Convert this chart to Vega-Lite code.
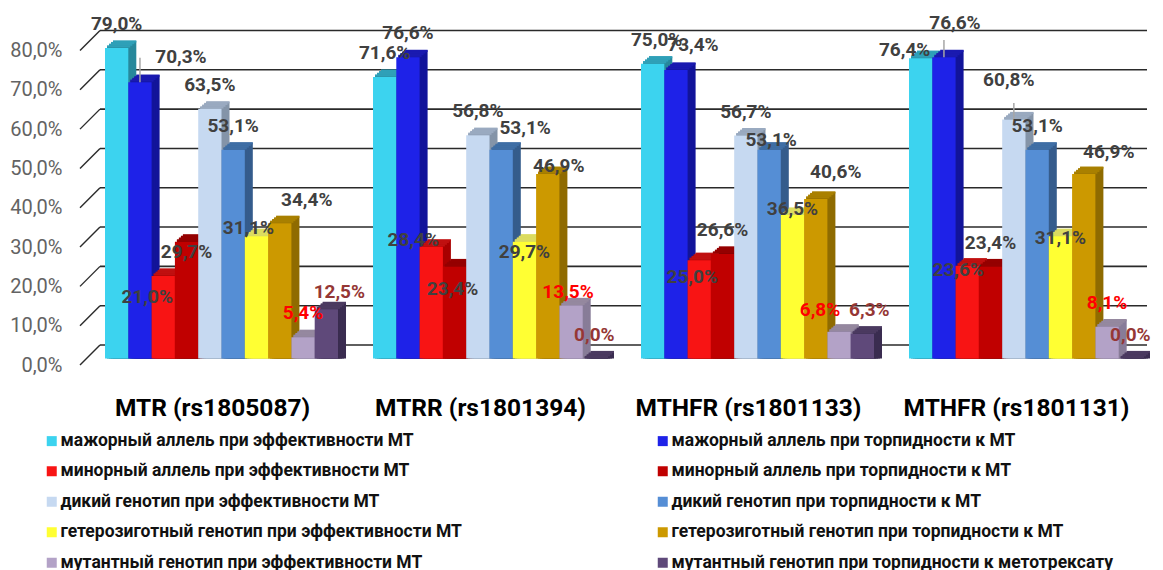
{"$schema":"https://vega.github.io/schema/vega-lite/v6.json","width":1047,"height":314.5,"autosize":{"type":"none"},"padding":{"left":100,"top":44,"right":16,"bottom":211.5},"background":"white","config":{"view":{"stroke":null},"font":"Roboto"},
"layer":[
{"data":{"values":[{"v":0},{"v":10},{"v":20},{"v":30},{"v":40},{"v":50},{"v":60},{"v":70},{"v":80}]},"layer":[
{"mark":{"type":"rule","color":"#2a2a2a","strokeWidth":1.6,"yOffset":-13.5},"encoding":{"y":{"field":"v","type":"quantitative","title":null,"scale":{"domain":[0,80],"nice":false},"axis":{"domain":false,"ticks":false,"grid":false,"values":[0,10,20,30,40,50,60,70,80],"labelOverlap":false,"labelExpr":"replace(format(datum.value,'.1f'),'.',',')+'%'","labelFontSize":20,"labelColor":"#636363","labelPadding":38,"labelOffset":6.5}}}},
{"mark":{"type":"rule","color":"#2a2a2a","strokeWidth":1.4,"yOffset":6.5,"y2Offset":-13.5},"encoding":{"x":{"value":-20},"x2":{"value":0},"y":{"field":"v","type":"quantitative","title":null,"axis":{"domain":false,"ticks":false,"grid":false,"values":[0,10,20,30,40,50,60,70,80],"labelOverlap":false,"labelExpr":"replace(format(datum.value,'.1f'),'.',',')+'%'","labelFontSize":20,"labelColor":"#636363","labelPadding":38,"labelOffset":6.5}},"y2":{"field":"v"}}}
]},
{"data":{"values":[
{"id":1,"group":"MTR (rs1805087)","series":"мажорный аллель при эффективности МТ","value":79.0,"label":"79,0%"},
{"id":2,"group":"MTR (rs1805087)","series":"мажорный аллель при торпидности к МТ","value":70.3,"label":"70,3%"},
{"id":3,"group":"MTR (rs1805087)","series":"минорный аллель при эффективности МТ","value":21.0,"label":"21,0%"},
{"id":4,"group":"MTR (rs1805087)","series":"минорный аллель при торпидности к МТ","value":29.7,"label":"29,7%"},
{"id":5,"group":"MTR (rs1805087)","series":"дикий генотип при эффективности МТ","value":63.5,"label":"63,5%"},
{"id":6,"group":"MTR (rs1805087)","series":"дикий генотип при торпидности к МТ","value":53.1,"label":"53,1%"},
{"id":7,"group":"MTR (rs1805087)","series":"гетерозиготный генотип при эффективности МТ","value":31.1,"label":"31,1%"},
{"id":8,"group":"MTR (rs1805087)","series":"гетерозиготный генотип при торпидности к МТ","value":34.4,"label":"34,4%"},
{"id":9,"group":"MTR (rs1805087)","series":"мутантный генотип при эффективности МТ","value":5.4,"label":"5,4%"},
{"id":10,"group":"MTR (rs1805087)","series":"мутантный генотип при торпидности к метотрексату","value":12.5,"label":"12,5%"},
{"id":11,"group":"MTRR (rs1801394)","series":"мажорный аллель при эффективности МТ","value":71.6,"label":"71,6%"},
{"id":12,"group":"MTRR (rs1801394)","series":"мажорный аллель при торпидности к МТ","value":76.6,"label":"76,6%"},
{"id":13,"group":"MTRR (rs1801394)","series":"минорный аллель при эффективности МТ","value":28.4,"label":"28,4%"},
{"id":14,"group":"MTRR (rs1801394)","series":"минорный аллель при торпидности к МТ","value":23.4,"label":"23,4%"},
{"id":15,"group":"MTRR (rs1801394)","series":"дикий генотип при эффективности МТ","value":56.8,"label":"56,8%"},
{"id":16,"group":"MTRR (rs1801394)","series":"дикий генотип при торпидности к МТ","value":53.1,"label":"53,1%"},
{"id":17,"group":"MTRR (rs1801394)","series":"гетерозиготный генотип при эффективности МТ","value":29.7,"label":"29,7%"},
{"id":18,"group":"MTRR (rs1801394)","series":"гетерозиготный генотип при торпидности к МТ","value":46.9,"label":"46,9%"},
{"id":19,"group":"MTRR (rs1801394)","series":"мутантный генотип при эффективности МТ","value":13.5,"label":"13,5%"},
{"id":20,"group":"MTRR (rs1801394)","series":"мутантный генотип при торпидности к метотрексату","value":0.0,"label":"0,0%"},
{"id":21,"group":"MTHFR (rs1801133)","series":"мажорный аллель при эффективности МТ","value":75.0,"label":"75,0%"},
{"id":22,"group":"MTHFR (rs1801133)","series":"мажорный аллель при торпидности к МТ","value":73.4,"label":"73,4%"},
{"id":23,"group":"MTHFR (rs1801133)","series":"минорный аллель при эффективности МТ","value":25.0,"label":"25,0%"},
{"id":24,"group":"MTHFR (rs1801133)","series":"минорный аллель при торпидности к МТ","value":26.6,"label":"26,6%"},
{"id":25,"group":"MTHFR (rs1801133)","series":"дикий генотип при эффективности МТ","value":56.7,"label":"56,7%"},
{"id":26,"group":"MTHFR (rs1801133)","series":"дикий генотип при торпидности к МТ","value":53.1,"label":"53,1%"},
{"id":27,"group":"MTHFR (rs1801133)","series":"гетерозиготный генотип при эффективности МТ","value":36.5,"label":"36,5%"},
{"id":28,"group":"MTHFR (rs1801133)","series":"гетерозиготный генотип при торпидности к МТ","value":40.6,"label":"40,6%"},
{"id":29,"group":"MTHFR (rs1801133)","series":"мутантный генотип при эффективности МТ","value":6.8,"label":"6,8%"},
{"id":30,"group":"MTHFR (rs1801133)","series":"мутантный генотип при торпидности к метотрексату","value":6.3,"label":"6,3%"},
{"id":31,"group":"MTHFR (rs1801131)","series":"мажорный аллель при эффективности МТ","value":76.4,"label":"76,4%"},
{"id":32,"group":"MTHFR (rs1801131)","series":"мажорный аллель при торпидности к МТ","value":76.6,"label":"76,6%"},
{"id":33,"group":"MTHFR (rs1801131)","series":"минорный аллель при эффективности МТ","value":23.6,"label":"23,6%"},
{"id":34,"group":"MTHFR (rs1801131)","series":"минорный аллель при торпидности к МТ","value":23.4,"label":"23,4%"},
{"id":35,"group":"MTHFR (rs1801131)","series":"дикий генотип при эффективности МТ","value":60.8,"label":"60,8%"},
{"id":36,"group":"MTHFR (rs1801131)","series":"дикий генотип при торпидности к МТ","value":53.1,"label":"53,1%"},
{"id":37,"group":"MTHFR (rs1801131)","series":"гетерозиготный генотип при эффективности МТ","value":31.1,"label":"31,1%"},
{"id":38,"group":"MTHFR (rs1801131)","series":"гетерозиготный генотип при торпидности к МТ","value":46.9,"label":"46,9%"},
{"id":39,"group":"MTHFR (rs1801131)","series":"мутантный генотип при эффективности МТ","value":8.1,"label":"8,1%"},
{"id":40,"group":"MTHFR (rs1801131)","series":"мутантный генотип при торпидности к метотрексату","value":0.0,"label":"0,0%"}
]},
"encoding":{
"x":{"field":"group","type":"nominal","sort":null,"title":null,"scale":{"paddingInner":0.1306,"paddingOuter":0.0187},"axis":{"domain":false,"ticks":false,"labelAngle":0,"labelFontSize":24.5,"labelFontWeight":"bold","labelColor":"#000000","labelPadding":50,"labelOffset":-9,"labelLimit":400,"labelBaseline":"middle","encode":{"labels":{"update":{"dx":{"signal":"datum.value=='MTR (rs1805087)'?-9:datum.value=='MTHFR (rs1801133)'?2:datum.value=='MTHFR (rs1801131)'?-2:0"}}}}}},
"xOffset":{"field":"series","type":"nominal","sort":null,"scale":{"paddingInner":0,"paddingOuter":0,"domain":["мажорный аллель при эффективности МТ","мажорный аллель при торпидности к МТ","минорный аллель при эффективности МТ","минорный аллель при торпидности к МТ","дикий генотип при эффективности МТ","дикий генотип при торпидности к МТ","гетерозиготный генотип при эффективности МТ","гетерозиготный генотип при торпидности к МТ","мутантный генотип при эффективности МТ","мутантный генотип при торпидности к метотрексату"]}},
"y":{"field":"value","type":"quantitative","stack":null,"title":null,"axis":{"domain":false,"ticks":false,"grid":false,"values":[0,10,20,30,40,50,60,70,80],"labelOverlap":false,"labelExpr":"replace(format(datum.value,'.1f'),'.',',')+'%'","labelFontSize":20,"labelColor":"#636363","labelPadding":38,"labelOffset":6.5}}
},
"layer":[
{"encoding":{"color":{"field":"series","type":"nominal","legend":null,"scale":{"domain":["мажорный аллель при эффективности МТ","минорный аллель при эффективности МТ","дикий генотип при эффективности МТ","гетерозиготный генотип при эффективности МТ","мутантный генотип при эффективности МТ","мажорный аллель при торпидности к МТ","минорный аллель при торпидности к МТ","дикий генотип при торпидности к МТ","гетерозиготный генотип при торпидности к МТ","мутантный генотип при торпидности к метотрексату"],"range":["#27889c","#a80000","#8494a8","#d4d468","#887c98","#12149a","#7f0000","#355c8c","#8f6b00","#3a2c50"]}}},
"layer":[
{"mark":{"type":"bar","yOffset":-7,"y2Offset":-7},"encoding":{"xOffset":{"field":"series","type":"nominal","sort":null,"scale":{"paddingInner":0,"paddingOuter":0,"range":[8,241]}}}},
{"mark":{"type":"bar","yOffset":-5.25,"y2Offset":-5.25},"encoding":{"xOffset":{"field":"series","type":"nominal","sort":null,"scale":{"paddingInner":0,"paddingOuter":0,"range":[6,239]}}}},
{"mark":{"type":"bar","yOffset":-3.5,"y2Offset":-3.5},"encoding":{"xOffset":{"field":"series","type":"nominal","sort":null,"scale":{"paddingInner":0,"paddingOuter":0,"range":[4,237]}}}},
{"mark":{"type":"bar","yOffset":-1.75,"y2Offset":-1.75},"encoding":{"xOffset":{"field":"series","type":"nominal","sort":null,"scale":{"paddingInner":0,"paddingOuter":0,"range":[2,235]}}}}
],"resolve":{"scale":{"xOffset":"independent"}}},
{"encoding":{"color":{"field":"series","type":"nominal","legend":null,"scale":{"domain":["мажорный аллель при эффективности МТ","минорный аллель при эффективности МТ","дикий генотип при эффективности МТ","гетерозиготный генотип при эффективности МТ","мутантный генотип при эффективности МТ","мажорный аллель при торпидности к МТ","минорный аллель при торпидности к МТ","дикий генотип при торпидности к МТ","гетерозиготный генотип при торпидности к МТ","мутантный генотип при торпидности к метотрексату"],"range":["#2fa0b8","#c01010","#9aaac0","#dcdc60","#95889f","#1a1ab0","#950000","#3f6ea5","#a98000","#4b3a60"]}}},
"layer":[
{"mark":{"type":"tick","size":23.3,"thickness":2.2,"opacity":1,"yOffset":-6.5},"encoding":{"xOffset":{"field":"series","type":"nominal","sort":null,"scale":{"paddingInner":0,"paddingOuter":0,"range":[8,241]}}}},
{"mark":{"type":"tick","size":23.3,"thickness":2.2,"opacity":1,"yOffset":-4.9},"encoding":{"xOffset":{"field":"series","type":"nominal","sort":null,"scale":{"paddingInner":0,"paddingOuter":0,"range":[6,239]}}}},
{"mark":{"type":"tick","size":23.3,"thickness":2.2,"opacity":1,"yOffset":-3.2},"encoding":{"xOffset":{"field":"series","type":"nominal","sort":null,"scale":{"paddingInner":0,"paddingOuter":0,"range":[4,237]}}}},
{"mark":{"type":"tick","size":23.3,"thickness":2.2,"opacity":1,"yOffset":-1.5},"encoding":{"xOffset":{"field":"series","type":"nominal","sort":null,"scale":{"paddingInner":0,"paddingOuter":0,"range":[2,235]}}}}
],"resolve":{"scale":{"xOffset":"independent"}}},
{"mark":{"type":"bar"},"encoding":{"color":{"field":"series","type":"nominal","scale":{"domain":["мажорный аллель при эффективности МТ","минорный аллель при эффективности МТ","дикий генотип при эффективности МТ","гетерозиготный генотип при эффективности МТ","мутантный генотип при эффективности МТ","мажорный аллель при торпидности к МТ","минорный аллель при торпидности к МТ","дикий генотип при торпидности к МТ","гетерозиготный генотип при торпидности к МТ","мутантный генотип при торпидности к метотрексату"],"range":["#3cd3ef","#f81414","#c6d9f1","#ffff33","#b3a2c7","#1e22e8","#c00000","#558ed5","#cc9900","#5f497a"]},"legend":{"title":null,"orient":"none","legendX":-57,"legendY":388,"columns":2,"symbolType":"square","symbolSize":100,"symbolStrokeWidth":0,"labelFontSize":17.5,"labelFontWeight":"bold","labelColor":"#111111","labelLimit":600,"rowPadding":11.5,"columnPadding":192,"labelOffset":0,"symbolOffset":0,"padding":0}}}},
{"transform":[{"filter":"datum.id==2"}],"mark":{"type":"rule","color":"#a6a6a6","strokeWidth":1.5},"encoding":{"y2":{"datum":76.5}}},
{"transform":[{"filter":"datum.id==35"}],"mark":{"type":"rule","color":"#a6a6a6","strokeWidth":1.5},"encoding":{"y2":{"datum":65}}},
{"transform":[{"filter":"datum.id==32"}],"mark":{"type":"rule","color":"#a6a6a6","strokeWidth":1.5},"encoding":{"y2":{"datum":81}}},
{"encoding":{"text":{"field":"label"},"color":{"condition":[{"test":"datum.series=='мутантный генотип при эффективности МТ'","value":"#ff0000"},{"test":"datum.series=='мутантный генотип при торпидности к метотрексату'","value":"#953735"}],"value":"#404040"}},
"layer":[
{"transform":[{"filter":"indexof([2,3,4,7,8,10,13,14,16,17,18,19,21,22,23,26,27,28,29,30,31,32,33,35,37,38],datum.id)<0"}],"mark":{"type":"text","fontSize":19,"fontWeight":"bold","dy":-24}},
{"transform":[{"filter":"datum.id==2"}],"mark":{"type":"text","fontSize":19,"fontWeight":"bold","dx":41,"dy":-25}},
{"transform":[{"filter":"datum.id==3"}],"mark":{"type":"text","fontSize":19,"fontWeight":"bold","dx":-16,"dy":21}},
{"transform":[{"filter":"datum.id==4||datum.id==17"}],"mark":{"type":"text","fontSize":19,"fontWeight":"bold","dy":10}},
{"transform":[{"filter":"datum.id==7"}],"mark":{"type":"text","fontSize":19,"fontWeight":"bold","dx":-8,"dy":-8}},
{"transform":[{"filter":"datum.id==8"}],"mark":{"type":"text","fontSize":19,"fontWeight":"bold","dx":27,"dy":-23}},
{"transform":[{"filter":"datum.id==10"}],"mark":{"type":"text","fontSize":19,"fontWeight":"bold","dx":13,"dy":-17}},
{"transform":[{"filter":"datum.id==13"}],"mark":{"type":"text","fontSize":19,"fontWeight":"bold","dx":-18,"dy":-7}},
{"transform":[{"filter":"datum.id==14"}],"mark":{"type":"text","fontSize":19,"fontWeight":"bold","dx":-2,"dy":22}},
{"transform":[{"filter":"datum.id==16"}],"mark":{"type":"text","fontSize":19,"fontWeight":"bold","dx":24,"dy":-22}},
{"transform":[{"filter":"datum.id==18"}],"mark":{"type":"text","fontSize":19,"fontWeight":"bold","dx":11,"dy":-8}},
{"transform":[{"filter":"datum.id==19"}],"mark":{"type":"text","fontSize":19,"fontWeight":"bold","dx":-3,"dy":-13}},
{"transform":[{"filter":"datum.id==21"}],"mark":{"type":"text","fontSize":19,"fontWeight":"bold","dx":4,"dy":-24}},
{"transform":[{"filter":"datum.id==22"}],"mark":{"type":"text","fontSize":19,"fontWeight":"bold","dx":17,"dy":-25}},
{"transform":[{"filter":"datum.id==23"}],"mark":{"type":"text","fontSize":19,"fontWeight":"bold","dx":-7,"dy":17}},
{"transform":[{"filter":"datum.id==26"}],"mark":{"type":"text","fontSize":19,"fontWeight":"bold","dx":2,"dy":-10}},
{"transform":[{"filter":"datum.id==27"}],"mark":{"type":"text","fontSize":19,"fontWeight":"bold","dy":-6}},
{"transform":[{"filter":"datum.id==28"}],"mark":{"type":"text","fontSize":19,"fontWeight":"bold","dx":20,"dy":-27}},
{"transform":[{"filter":"datum.id==29"}],"mark":{"type":"text","fontSize":19,"fontWeight":"bold","dx":-19,"dy":-22}},
{"transform":[{"filter":"datum.id==30"}],"mark":{"type":"text","fontSize":19,"fontWeight":"bold","dx":7,"dy":-24}},
{"transform":[{"filter":"datum.id==31"}],"mark":{"type":"text","fontSize":19,"fontWeight":"bold","dx":-16,"dy":-8}},
{"transform":[{"filter":"datum.id==32"}],"mark":{"type":"text","fontSize":19,"fontWeight":"bold","dx":11,"dy":-34}},
{"transform":[{"filter":"datum.id==33"}],"mark":{"type":"text","fontSize":19,"fontWeight":"bold","dx":-9,"dy":4}},
{"transform":[{"filter":"datum.id==35"}],"mark":{"type":"text","fontSize":19,"fontWeight":"bold","dx":-5,"dy":-39}},
{"transform":[{"filter":"datum.id==37"}],"mark":{"type":"text","fontSize":19,"fontWeight":"bold","dy":2}},
{"transform":[{"filter":"datum.id==38"}],"mark":{"type":"text","fontSize":19,"fontWeight":"bold","dx":25,"dy":-22}}
]}
],"resolve":{"scale":{"color":"independent"}}}
]}
